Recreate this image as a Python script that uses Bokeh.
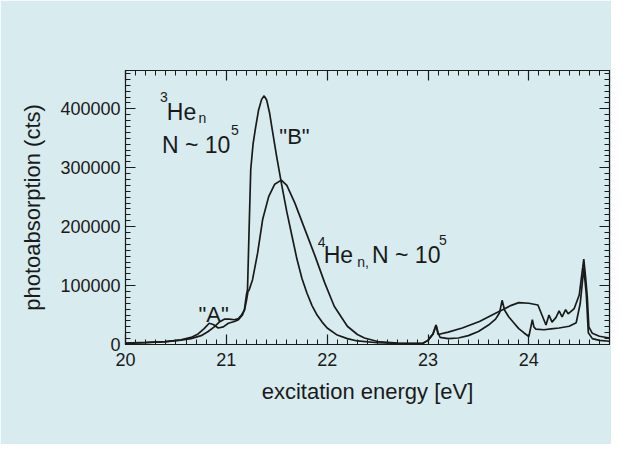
from bokeh.plotting import figure
from bokeh.models import Range1d, LinearAxis, SingleIntervalTicker, BasicTickFormatter, Label
from bokeh.embed import file_html
from bokeh.resources import INLINE

# ---- data ----
# 3He_n, N ~ 10^5
e_he3 = [20.0, 20.2, 20.4, 20.55, 20.65, 20.72, 20.78, 20.83, 20.87, 20.92, 20.97, 21.02,
         21.08, 21.12, 21.16, 21.18, 21.20, 21.21, 21.225, 21.242, 21.265, 21.29, 21.32,
         21.35, 21.375, 21.40, 21.43, 21.45, 21.50, 21.55, 21.60, 21.65, 21.70, 21.75,
         21.80, 21.85, 21.90, 21.95, 22.0, 22.1, 22.2, 22.3, 22.5, 22.7, 22.9, 22.95,
         23.0, 23.05, 23.08, 23.1, 23.12, 23.2, 23.3, 23.4, 23.5, 23.6, 23.67, 23.71,
         23.735, 23.76, 23.8, 23.85, 23.9, 23.95, 24.0, 24.02, 24.035, 24.05, 24.07,
         24.15, 24.22, 24.3, 24.4, 24.47, 24.51, 24.545, 24.57, 24.59, 24.63, 24.7, 24.8]
c_he3 = [2000, 3000, 5000, 8000, 12000, 18000, 27000, 36000, 34000, 28000, 30000, 36000,
         39000, 42000, 50000, 60000, 85000, 93000, 190000, 297000, 340000, 368000, 398000,
         416000, 422000, 415000, 392000, 370000, 318000, 270000, 225000, 185000, 145000, 112000,
         87000, 66000, 50000, 38000, 28000, 16000, 10000, 6000, 3000, 2000, 1500, 2000,
         7000, 18000, 33000, 20000, 12000, 10000, 11000, 15000, 22000, 33000, 43000, 54000,
         75000, 58000, 47000, 37000, 27000, 20000, 13500, 30000, 42000, 30000, 26000,
         25000, 26500, 28000, 31000, 37000, 70000, 130000, 85000, 20000, 10000, 7000, 5500]

# 4He_n, N ~ 10^5
e_he4 = [20.0, 20.2, 20.4, 20.55, 20.65, 20.75, 20.82, 20.88, 20.93, 20.98, 21.03, 21.08,
         21.12, 21.15, 21.18, 21.20, 21.215, 21.225, 21.26, 21.31, 21.36, 21.42, 21.48,
         21.545, 21.60, 21.68, 21.78, 21.88, 21.975, 22.07, 22.2, 22.3, 22.37, 22.5, 22.7,
         22.9, 22.95, 23.0, 23.05, 23.08, 23.1, 23.2, 23.34, 23.51, 23.67, 23.75, 23.82,
         23.9, 24.0, 24.09, 24.13, 24.17, 24.2, 24.23, 24.27, 24.3, 24.33, 24.365, 24.39,
         24.45, 24.5, 24.53, 24.545, 24.565, 24.58, 24.595, 24.63, 24.7, 24.8]
c_he4 = [2500, 3500, 5000, 7500, 10000, 15000, 22000, 30000, 38000, 43000, 43000, 42000,
         44000, 50000, 58000, 75000, 90000, 92000, 110000, 155000, 212000, 251000, 272000,
         279000, 270000, 240000, 195000, 150000, 105000, 65000, 31000, 17000, 11000, 5000, 2500,
         2000, 2000, 7000, 18000, 33000, 17000, 21000, 28000, 39000, 53000, 60000, 66000,
         71000, 70000, 67000, 50000, 33000, 50000, 38000, 46000, 57000, 47000, 59000, 52000,
         61000, 84000, 125000, 145000, 110000, 80000, 30000, 19000, 14000, 11000]

x_ticks_interval = 1
y_ticks_interval = 100000

BG = "#d8ebee"
INK = "#1a1a1a"
FONT = "Liberation Sans"

p = figure(width=611, height=444, output_backend="svg", toolbar_location=None,
           x_range=Range1d(20, 24.8), y_range=Range1d(0, 465000),
           min_border_left=125, min_border_top=70, min_border_right=2, min_border_bottom=100,
           background_fill_color=BG, border_fill_color=BG)
p.grid.visible = False
p.outline_line_color = INK
p.outline_line_width = 1.2

p.line(e_he3, c_he3, line_color=INK, line_width=1.7)
p.line(e_he4, c_he4, line_color=INK, line_width=1.7)

xt = SingleIntervalTicker(interval=x_ticks_interval, num_minor_ticks=10)
yt = SingleIntervalTicker(interval=y_ticks_interval, num_minor_ticks=10)

xa = p.xaxis[0]
ya = p.yaxis[0]
xa.ticker = xt
ya.ticker = yt
ya.formatter = BasicTickFormatter(use_scientific=False)
xa.axis_label = "excitation energy [eV]"
ya.axis_label = "photoabsorption (cts)"

top = LinearAxis(ticker=xt, major_label_text_font_size="0px", major_label_text_color=None)
right = LinearAxis(ticker=yt, major_label_text_font_size="0px", major_label_text_color=None)
p.add_layout(top, "above")
p.add_layout(right, "right")

for ax in (xa, ya, top, right):
    ax.major_tick_in = 10
    ax.major_tick_out = 0
    ax.minor_tick_in = 5
    ax.minor_tick_out = 0
    ax.axis_line_color = INK
    ax.major_tick_line_color = INK
    ax.minor_tick_line_color = INK
    ax.major_tick_line_width = 1.2
    ax.minor_tick_line_width = 1

for ax in (xa, ya):
    ax.major_label_text_font = FONT
    ax.major_label_text_font_size = "18px"
    ax.major_label_text_color = INK
    ax.axis_label_text_font = FONT
    ax.axis_label_text_font_size = "22px"
    ax.axis_label_text_font_style = "normal"
    ax.axis_label_text_color = INK
xa.major_label_standoff = 8
xa.axis_label_standoff = 10
ya.major_label_standoff = 5
ya.axis_label_standoff = 12

labels = [
    (20.342, 420000, "3", "14px"),
    (20.41, 395000, "He", "23px"),
    (20.724, 385000, "n", "14px"),
    (20.362, 339000, "N ~ 10", "23px"),
    (21.046, 364000, "5", "14px"),
    (21.526, 352500, "\"B\"", "22px"),
    (21.907, 174500, "4", "14px"),
    (21.966, 152500, "He", "23px"),
    (22.298, 140700, "n,", "14px"),
    (22.445, 152500, "N ~ 10", "23px"),
    (23.11, 178000, "5", "14px"),
    (20.724, 51000, "\"A\"", "22px"),
]
for x, y, t, fs in labels:
    p.add_layout(Label(x=x, y=y, text=t, x_units="data", y_units="data",
                       text_font=FONT, text_font_size=fs, text_color=INK,
                       text_baseline="alphabetic", text_align="left"))

open("out.html", "w").write(file_html(p, INLINE))
